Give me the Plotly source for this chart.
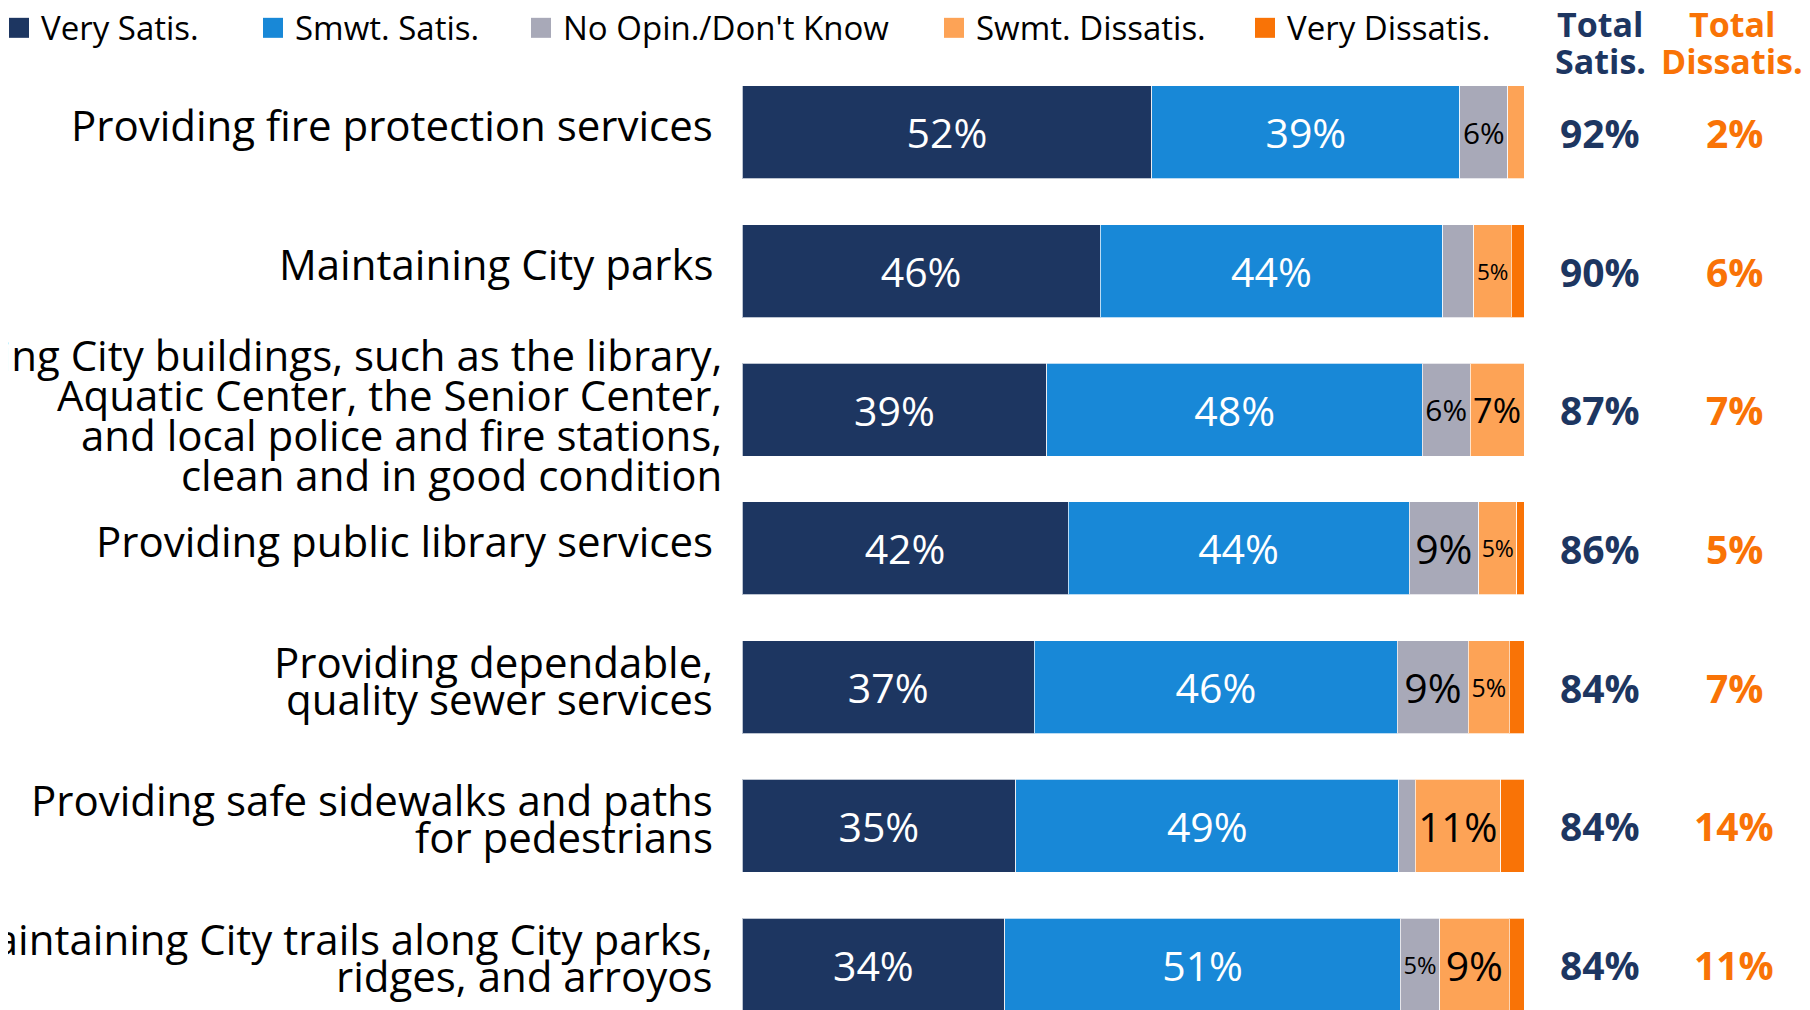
import plotly.graph_objects as go

# ---------------- data ----------------
categories = [
    "Providing fire protection services",
    "Maintaining City parks",
    "Keeping City buildings, such as the library,<br>Aquatic Center, the Senior Center,<br>and local police and fire stations,<br>clean and in good condition",
    "Providing public library services",
    "Providing dependable,<br>quality sewer services",
    "Providing safe sidewalks and paths<br>for pedestrians",
    "Maintaining City trails along City parks,<br>ridges, and arroyos",
]
very_satis = [52.4, 45.8, 39.0, 41.7, 37.4, 35.0, 33.6]
smwt_satis = [39.4, 43.8, 48.0, 43.6, 46.4, 49.0, 50.6]
no_opinion = [6.1, 4.0, 6.1, 8.9, 9.1, 2.1, 5.0]
swmt_dissat = [2.1, 4.8, 6.9, 4.9, 5.2, 10.9, 8.9]
very_dissat = [0.0, 1.6, 0.0, 0.9, 1.9, 3.0, 1.9]
total_satis = [92, 90, 87, 86, 84, 84, 84]
total_dissat = [2, 6, 7, 5, 7, 14, 11]
series_names = ["Very Satis.", "Smwt. Satis.", "No Opin./Don't Know",
                "Swmt. Dissatis.", "Very Dissatis."]
header_satis = ["Total", "Satis."]
header_dissat = ["Total", "Dissatis."]

# ---------------- style ----------------
series_values = [very_satis, smwt_satis, no_opinion, swmt_dissat, very_dissat]
series_colors = ["#1D3661", "#1888D7", "#A8A9B8", "#FDA356", "#F97306"]
label_colors = ["white", "white", "black", "black", "black"]
NAVY = "#1D3661"
ORANGE = "#F97306"
FONT = "Open Sans"

OFF = 8                      # page body margin
PAGE_W, PAGE_H = 1810, 1010
W, H = PAGE_W - OFF, PAGE_H - OFF
PL, PR = 742, 1524           # plot area, page px
ROW = 138.67                 # row pitch, px
PT = 132.5 - ROW / 2         # top of plot area, page px
n = len(categories)
y_bottom = -0.5 + (PAGE_H - PT) / ROW


def px_x(px):
    return (px - PL) / (PR - PL)


def px_y(py):
    return 1 - (py - PT) / (PAGE_H - PT)


def fmt(v):
    return f"{v:.0f}%" if v >= 4.5 else ""


fig = go.Figure()
for name, vals, col, tcol in zip(series_names, series_values, series_colors, label_colors):
    fig.add_trace(go.Bar(
        x=vals, y=categories, orientation="h", name=name,
        marker=dict(color=col, line=dict(color="rgba(255,255,255,0.7)", width=1)),
        text=[fmt(v) for v in vals],
        textposition="inside", insidetextanchor="middle", textangle=0,
        insidetextfont=dict(family=FONT, size=41, color=tcol),
        hoverinfo="skip", showlegend=False,
    ))

annotations = []
# category labels, one annotation per line
for i, cat in enumerate(categories):
    lines = cat.split("<br>")
    k = len(lines)
    if k <= 2:
        spacing, offset, right = 37, -7.5, 715
    else:
        spacing, offset, right = 40, 4.5, 724
    for j, line in enumerate(lines):
        dy = offset + (j - (k - 1) / 2) * spacing
        annotations.append(dict(
            x=px_x(right), xref="paper", xanchor="right",
            y=i, yref="y", yanchor="middle", yshift=-dy,
            text=line, showarrow=False,
            font=dict(family=FONT, size=42, color="black"),
        ))

# totals
for i in range(n):
    annotations.append(dict(
        x=px_x(1600), xref="paper", xanchor="center", y=i, yref="y", yanchor="middle",
        text=f"<b>{total_satis[i]}%</b>", showarrow=False,
        font=dict(family=FONT, size=39, color=NAVY)))
    annotations.append(dict(
        x=px_x(1734), xref="paper", xanchor="center", y=i, yref="y", yanchor="middle",
        text=f"<b>{total_dissat[i]}%</b>", showarrow=False,
        font=dict(family=FONT, size=39, color=ORANGE)))

# headers
for txt_list, cx, col in [(header_satis, 1600, NAVY), (header_dissat, 1732, ORANGE)]:
    for txt, py in zip(txt_list, [24, 61]):
        annotations.append(dict(
            x=px_x(cx), xref="paper", xanchor="center",
            y=px_y(py), yref="paper", yanchor="middle",
            text=f"<b>{txt}</b>", showarrow=False,
            font=dict(family=FONT, size=34, color=col)))

# manual legend
legend_marker_x = [9, 263, 531, 944, 1255]
shapes = []
for name, col, mx in zip(series_names, series_colors, legend_marker_x):
    shapes.append(dict(type="rect", xref="paper", yref="paper",
                       x0=px_x(mx), x1=px_x(mx + 20), y0=px_y(38), y1=px_y(18),
                       fillcolor=col, line=dict(width=0)))
    annotations.append(dict(
        x=px_x(mx + 30), xref="paper", xanchor="left",
        y=px_y(28), yref="paper", yanchor="middle",
        text=name, showarrow=False,
        font=dict(family=FONT, size=33, color="black")))

fig.update_layout(
    width=W, height=H,
    margin=dict(l=PL - OFF, r=PAGE_W - PR, t=PT - OFF, b=0, autoexpand=False),
    barmode="stack", bargap=0.33,
    plot_bgcolor="white", paper_bgcolor="white",
    showlegend=False,
    xaxis=dict(range=[0, 100], visible=False, fixedrange=True),
    yaxis=dict(range=[y_bottom, -0.5], showticklabels=False, showgrid=False,
               zeroline=False, showline=False, ticks="", fixedrange=True),
    annotations=annotations, shapes=shapes,
    font=dict(family=FONT),
)

fig.write_html("out.html")
